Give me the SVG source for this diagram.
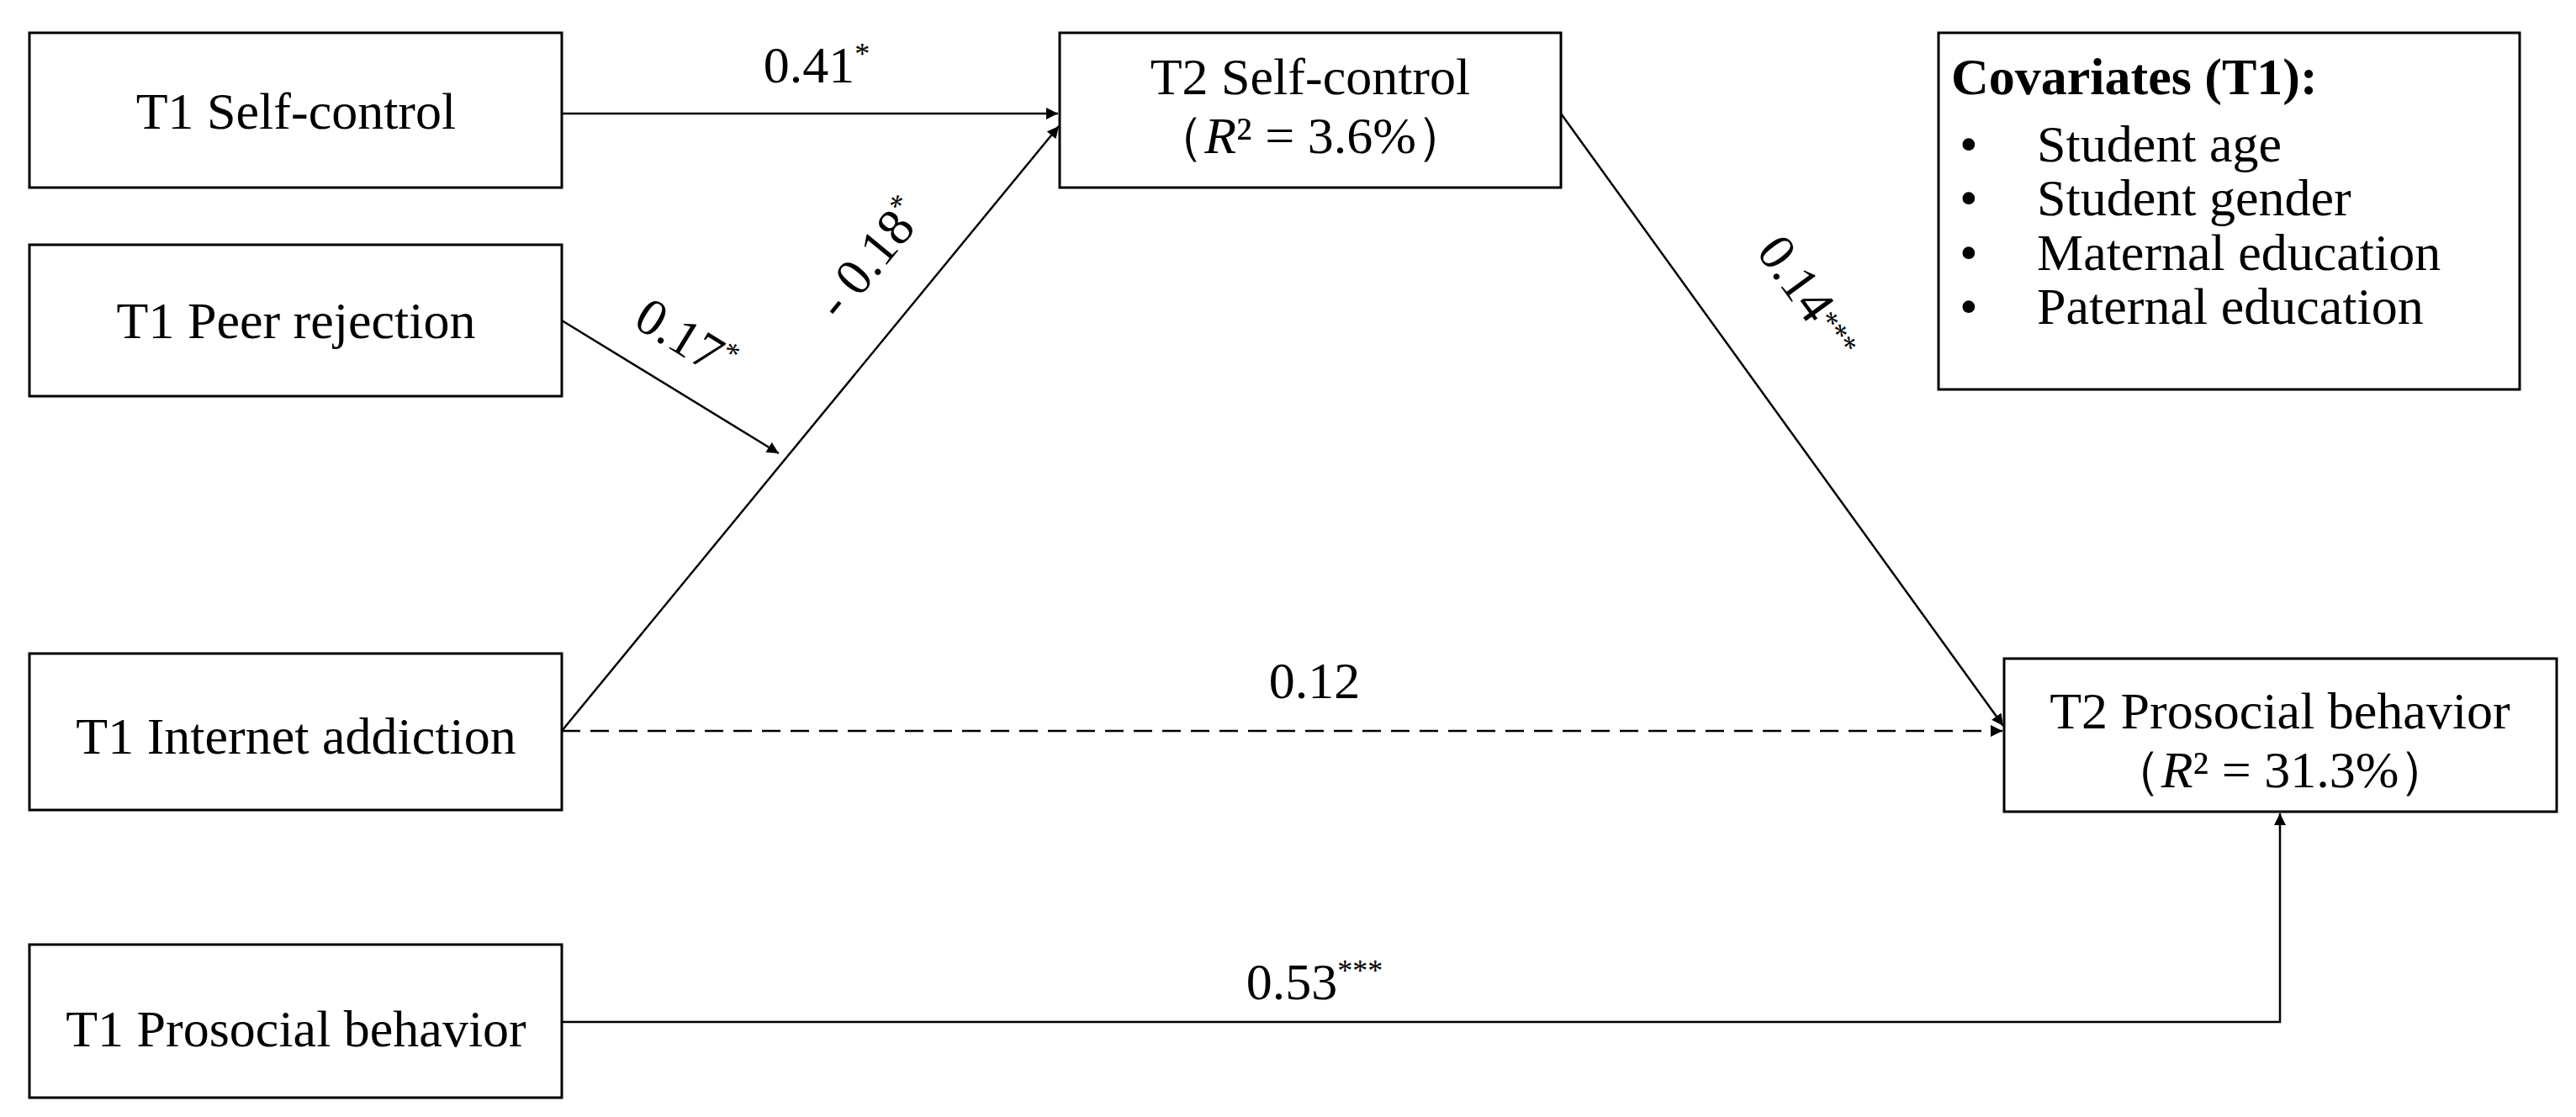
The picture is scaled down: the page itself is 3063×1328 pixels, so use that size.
<svg xmlns="http://www.w3.org/2000/svg" width="3063" height="1328" viewBox="0 0 3063 1328">
<style>
text{font-family:"Liberation Serif","Times New Roman",serif;font-size:62px;fill:#000}
.c{text-anchor:middle}
.box{fill:#fff;stroke:#000;stroke-width:3}
.ln{fill:none;stroke:#000;stroke-width:2.5}
.sup{font-size:36px}
</style>
<defs>
<marker id="ah" viewBox="0 0 10 10" refX="10" refY="5" markerWidth="14" markerHeight="14" markerUnits="userSpaceOnUse" orient="auto"><path d="M0,0 L10,5 L0,10 z" fill="#000"/></marker>
</defs>
<rect width="3063" height="1328" fill="#fff"/>
<g id="connectors">
<line class="ln" x1="668" y1="135" x2="1258" y2="135" marker-end="url(#ah)" style="marker-end:url(#ah)"/>
<line class="ln" x1="668" y1="381" x2="926" y2="539" marker-end="url(#ah)"/>
<line class="ln" x1="668" y1="869" x2="1259" y2="150" marker-end="url(#ah)"/>
<line class="ln" x1="1856" y1="135" x2="2382" y2="863" marker-end="url(#ah)"/>
<line class="ln" x1="668" y1="869" x2="2381" y2="869" stroke-dasharray="22,12" marker-end="url(#ah)"/>
<polyline class="ln" points="668,1215 2711,1215 2711,967" marker-end="url(#ah)"/>
<text class="c" x="971" y="98">0.41<tspan class="sup" dy="-22">*</tspan></text>
<text class="c" transform="translate(805,420) rotate(31.5)">0.17<tspan class="sup" dy="-22">*</tspan></text>
<text class="c" transform="translate(1050,320) rotate(-50.5)">- 0.18<tspan class="sup" dy="-22">*</tspan></text>
<text class="c" transform="translate(2135,365) rotate(54)">0.14<tspan class="sup" dy="-10">***</tspan></text>
<text class="c" x="1563" y="830">0.12</text>
<text class="c" x="1563" y="1188">0.53<tspan class="sup" dy="-22">***</tspan></text>
</g>
<g id="t1-self-control"><rect class="box" x="35" y="39" width="633" height="184"/><text class="c" x="352" y="153">T1 Self-control</text></g>
<g id="t1-peer-rejection"><rect class="box" x="35" y="291" width="633" height="180"/><text class="c" x="352" y="402">T1 Peer rejection</text></g>
<g id="t1-internet-addiction"><rect class="box" x="35" y="777" width="633" height="186"/><text class="c" x="352" y="896">T1 Internet addiction</text></g>
<g id="t1-prosocial"><rect class="box" x="35" y="1123" width="633" height="182"/><text class="c" x="352" y="1244">T1 Prosocial behavior</text></g>
<g id="t2-self-control"><rect class="box" x="1260" y="39" width="596" height="184"/><text class="c" x="1558" y="112">T2 Self-control</text><text class="c" x="1558" y="182">（<tspan font-style="italic">R</tspan>² = 3.6%）</text></g>
<g id="t2-prosocial"><rect class="box" x="2383" y="783" width="657" height="182"/><text class="c" x="2711" y="866">T2 Prosocial behavior</text><text class="c" x="2711" y="936">（<tspan font-style="italic">R</tspan>² = 31.3%）</text></g>
<g id="covariates"><rect class="box" x="2305" y="39" width="691" height="424"/>
<text x="2320" y="112" font-weight="bold">Covariates (T1):</text>
<text x="2330" y="192">•</text><text x="2422" y="192">Student age</text>
<text x="2330" y="256">•</text><text x="2422" y="256">Student gender</text>
<text x="2330" y="321">•</text><text x="2422" y="321">Maternal education</text>
<text x="2330" y="385">•</text><text x="2422" y="385">Paternal education</text>
</g>
</svg>
